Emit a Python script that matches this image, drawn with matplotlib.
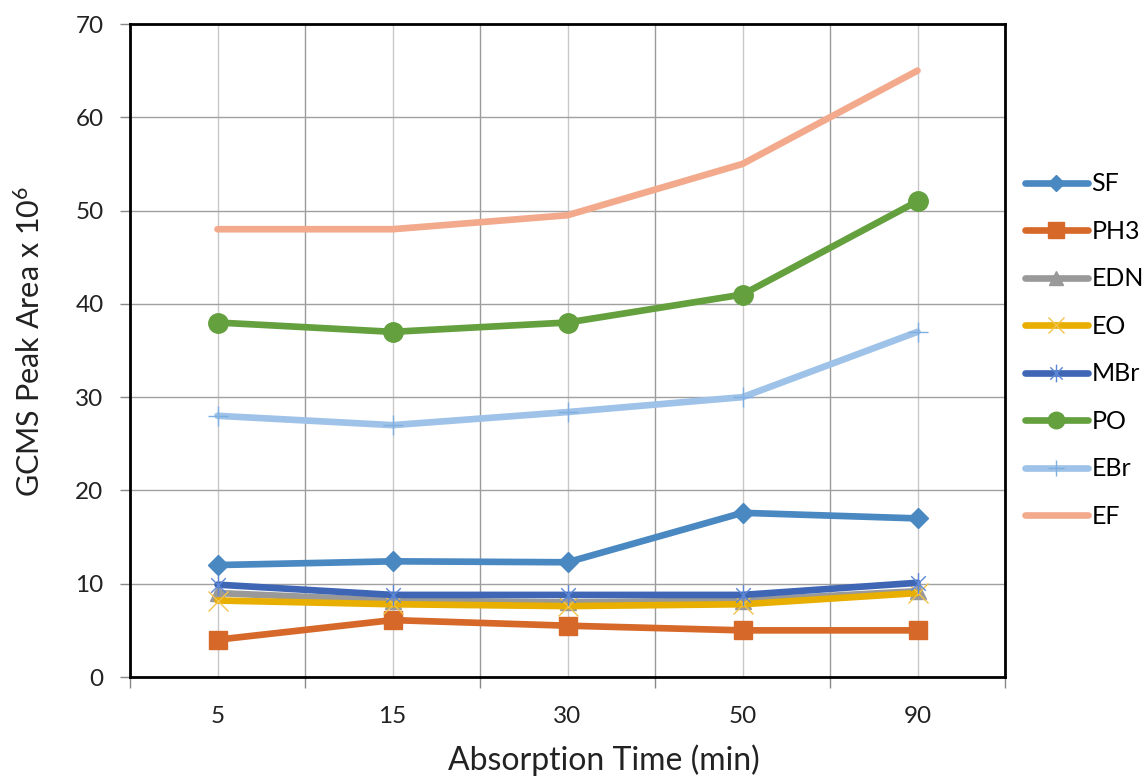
import matplotlib
matplotlib.use("Agg")
import matplotlib.pyplot as plt
from matplotlib.path import Path

plt.rcParams['font.family'] = ['Lato', 'DejaVu Sans']
plt.rcParams['mathtext.fontset'] = 'custom'
plt.rcParams['mathtext.rm'] = 'Lato'
plt.rcParams['mathtext.it'] = 'Lato'

categories = ["5", "15", "30", "50", "90"]
series_names = ["SF", "PH3", "EDN", "EO", "MBr", "PO", "EBr", "EF"]
SF = [12.0, 12.4, 12.3, 17.6, 17.0]
PH3 = [4.0, 6.1, 5.5, 5.0, 5.0]
EDN = [9.0, 8.2, 8.0, 8.2, 9.2]
EO = [8.2, 7.8, 7.6, 7.8, 9.0]
MBr = [9.9, 8.8, 8.8, 8.8, 10.1]
PO = [38.0, 37.0, 38.0, 41.0, 51.0]
EBr = [28.0, 27.0, 28.4, 30.0, 37.0]
EF = [48.0, 48.0, 49.5, 55.0, 65.0]
y_ticks = [0, 10, 20, 30, 40, 50, 60, 70]

star = Path([(0, -1), (0, 1), (-0.7, -0.7), (0.7, 0.7), (-0.7, 0.7), (0.7, -0.7)],
            [Path.MOVETO, Path.LINETO, Path.MOVETO, Path.LINETO, Path.MOVETO, Path.LINETO])

styles = {
    "SF": dict(color="#4A88C2", marker="D", ms=10, mec="#4A88C2"),
    "PH3": dict(color="#D6692A", marker="s", ms=13, mec="#D6692A"),
    "EDN": dict(color="#999999", marker="^", ms=12, mec="#999999"),
    "EO": dict(color="#E8AE00", marker="x", ms=14, mew=1.0, mec="#F2C24A"),
    "MBr": dict(color="#3E66B4", marker=star, ms=15, mew=1.0, mec="#5C86D6", mfc="none"),
    "PO": dict(color="#64A03E", marker="o", ms=14, mec="#64A03E"),
    "EBr": dict(color="#9FC3E8", marker="+", ms=14, mew=1.0, mec="#7FAEE0"),
    "EF": dict(color="#F2A98C", marker="None"),
}
data = {"SF": SF, "PH3": PH3, "EDN": EDN, "EO": EO, "MBr": MBr, "PO": PO, "EBr": EBr, "EF": EF}

fig = plt.figure(figsize=(11.44, 7.78), dpi=100)
ax = fig.add_axes([130/1144, 1-677/778, 875/1144, 653/778])

x = list(range(len(categories)))
handles = []
for name in series_names:
    st = dict(styles[name])
    ln, = ax.plot(x, data[name], lw=4.8, solid_capstyle='round', solid_joinstyle='round',
                  label=name, zorder=3, **st)
    handles.append(ln)

ax.set_xlim(-0.5, len(categories) - 0.5)
ax.set_ylim(0, 70)
ax.set_yticks(y_ticks)
ax.set_yticklabels([str(v) for v in y_ticks], fontsize=17.5, color="#222222")

bounds = [i - 0.5 for i in range(len(categories) + 1)]
ax.set_xticks(bounds)
ax.set_xticklabels([])
ax.set_xticks(x, minor=True)
ax.set_xticklabels(categories, minor=True, fontsize=17.5, color="#222222")
ax.tick_params(axis='x', which='major', length=8, width=1, color="#888888", direction='out')
ax.tick_params(axis='x', which='minor', length=0, pad=21)
ax.tick_params(axis='y', length=7, width=1, color="#888888", pad=12)

ax.grid(True, axis='y', color="#a0a0a0", lw=1)
ax.grid(True, axis='x', which='major', color="#9a9a9a", lw=1)
ax.grid(True, axis='x', which='minor', color="#c8c8c8", lw=1)
ax.set_axisbelow(True)
for sp in ax.spines.values():
    sp.set_color("black")
    sp.set_linewidth(2)

ax.set_xlabel("Absorption Time (min)", fontsize=23, color="#222222", labelpad=12.5)
ax.set_ylabel("GCMS Peak Area x 10$^6$", fontsize=22, color="#222222", labelpad=22)
ax.xaxis.label.set_x(0.542)
ax.yaxis.label.set_y(0.514)

fig.legend(handles=handles, loc='center left', bbox_to_anchor=(1025/1144, 1-350/778),
           frameon=False, fontsize=18, handlelength=2.5, handletextpad=0.15,
           labelspacing=0.98, markerscale=0.85, borderpad=0, borderaxespad=0)

fig.savefig("out.png", dpi=100)
